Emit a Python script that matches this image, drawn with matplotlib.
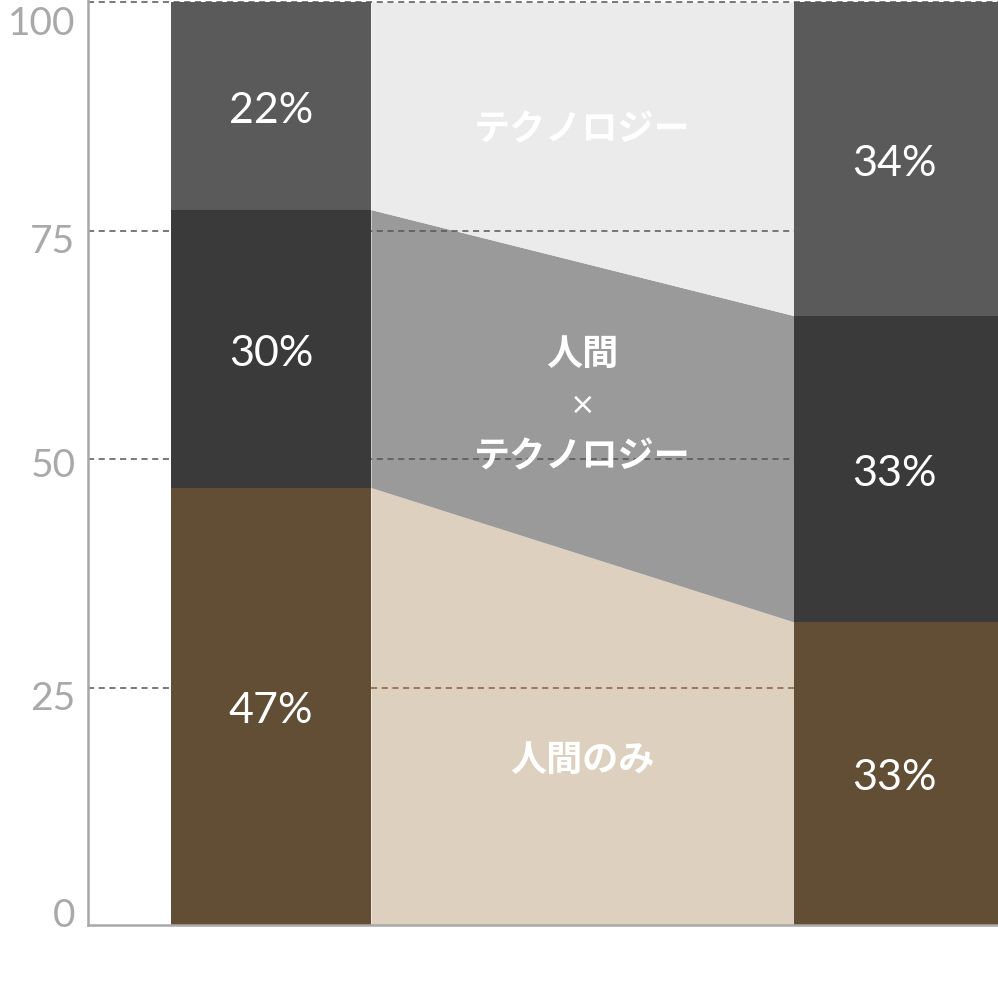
import matplotlib
matplotlib.use("Agg")
import matplotlib.pyplot as plt
import matplotlib.transforms as mtransforms
import numpy as np

# data (shares in %, bottom to top)
segments = ["人間のみ", "人間×テクノロジー", "テクノロジー"]
left_vals = [46.9, 30.4, 22.7]
right_vals = [32.2, 33.5, 34.3]
left_labels = ["47%", "30%", "22%"]
right_labels = ["33%", "33%", "34%"]
band_labels = [["人間のみ"], ["人間", "×", "テクノロジー"], ["テクノロジー"]]
yticks = [0, 25, 50, 75, 100]

bar_colors = ["#624e35", "#3a3a3a", "#5a5a5a"]
band_colors = ["#ded0bf", "#9a9a9a", "#ebebeb"]
jp_font = ["Noto Sans CJK JP", "DejaVu Sans"]

fig = plt.figure(figsize=(9.98, 9.92), dpi=100)
ax = fig.add_axes([88 / 998, 67 / 992, 910 / 998, 925 / 992])

ymin = -0.94
w = 0.321
x0, x1 = -0.2937, 1.167
ax.set_xlim(x0, x1)
ax.set_ylim(ymin, 100.22)

lb = np.concatenate([[ymin], np.cumsum(left_vals)])
rb = np.concatenate([[ymin], np.cumsum(right_vals)])

# connecting bands between the two bars
xs = [w / 2, 1 - w / 2]
for i in range(3):
    ax.fill_between(xs, [lb[i], rb[i]], [lb[i + 1], rb[i + 1]],
                    color=band_colors[i], lw=0, zorder=1)

# bars (right one runs to the edge of the plot)
down = mtransforms.ScaledTranslation(0, -0.05, fig.dpi_scale_trans)
for i in range(3):
    ax.bar(0, lb[i + 1] - lb[i], bottom=lb[i], width=w,
           color=bar_colors[i], lw=0, zorder=3)
    ax.bar(xs[1], rb[i + 1] - rb[i], bottom=rb[i], width=x1 - xs[1], align="edge",
           color=bar_colors[i], lw=0, zorder=3)
    ax.text(0, (lb[i] + lb[i + 1]) / 2, left_labels[i], color="white",
            fontsize=31, family="Lato", ha="center", va="center", zorder=5,
            transform=ax.transData + down)
    ax.text(1, (rb[i] + rb[i + 1]) / 2, right_labels[i], color="white",
            fontsize=31, family="Lato", ha="center", va="center", zorder=5,
            transform=ax.transData + down)

# dashed grid lines
dash = (0, (4, 3))
for t in yticks[1:]:
    z = 4 if t == 100 else 2
    if t < min(lb[1], rb[1]):
        # inside the beige band the line turns brown
        ax.hlines(t, x0, xs[0], color="#555555", lw=1.1, linestyles=dash, zorder=z)
        ax.hlines(t, xs[0], xs[1], color="#8a5f3c", lw=1.1, linestyles=dash, zorder=z)
    else:
        ax.hlines(t, x0, x1, color="#555555", lw=1.1, linestyles=dash, zorder=z)

# band labels
band_y = [[17.1], [61.4, 55.9, 50.3], [86.0]]
for lines, ys in zip(band_labels, band_y):
    for txt, y in zip(lines, ys):
        if txt == "×":
            ax.text(0.5, y, txt, color="white", fontsize=22, family="DejaVu Sans",
                    ha="center", va="center", zorder=5)
        else:
            ax.text(0.5, y, txt, color="white", fontsize=26, family=jp_font,
                    weight="bold", ha="center", va="center", zorder=5)

# axes styling
ax.set_xticks([])
ax.set_yticks(yticks)
ax.set_yticklabels([str(t) for t in yticks], color="#a9a9a9", fontsize=28,
                   family="Lato")
ax.tick_params(axis="y", length=0, pad=9)
offsets = [-4, 8, 3, 8, 18]
for lab, off in zip(ax.get_yticklabels(), offsets):
    lab.set_transform(lab.get_transform() +
                      mtransforms.ScaledTranslation(0, -off / 100, fig.dpi_scale_trans))
for s in ["top", "right"]:
    ax.spines[s].set_visible(False)
for s in ["left", "bottom"]:
    ax.spines[s].set_color("#a8a8a8")
    ax.spines[s].set_linewidth(1.8)
    ax.spines[s].set_zorder(6)

fig.savefig("out.png", dpi=100)
